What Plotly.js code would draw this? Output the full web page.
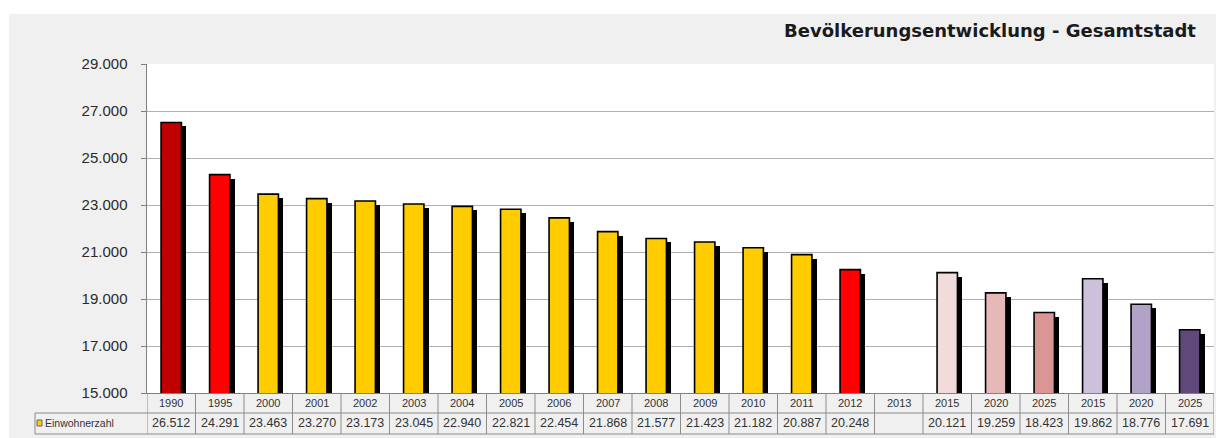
<!DOCTYPE html>
<html>
<head>
<meta charset="utf-8">
<script src="https://cdn.plot.ly/plotly-3.0.1.min.js"></script>
<style>html,body{margin:0;padding:0;background:#fff;}#chart{width:1216px;height:438px;}</style>
</head>
<body>
<div id="chart"></div>
<script>
// ---- data ----
var years = ["1990","1995","2000","2001","2002","2003","2004","2005","2006","2007","2008","2009","2010","2011","2012","2013","2015","2020","2025","2015","2020","2025"];
var population = [26512,24291,23463,23270,23173,23045,22940,22821,22454,21868,21577,21423,21182,20887,20248,null,20121,19259,18423,19862,18776,17691];
var barColors = ["#c00000","#ff0000","#ffcc00","#ffcc00","#ffcc00","#ffcc00","#ffcc00","#ffcc00","#ffcc00","#ffcc00","#ffcc00","#ffcc00","#ffcc00","#ffcc00","#ff0000","#ffffff","#f2dcdb","#e6b9b8","#da9694","#ccc0da","#b3a2c7","#60497a"];
var seriesName = "Einwohnerzahl";
var chartTitle = "Bevölkerungsentwicklung - Gesamtstadt";
var yMin = 15000, yMax = 29000, yStep = 2000;

// ---- helpers ----
var idx = years.map(function(_, i){ return i; });
function fmt(v){ return v == null ? "" : v.toLocaleString("de-DE"); }

var shadowDrop = 170; // visual shadow offset in data units
var shadow = {
  type: "bar", x: idx,
  y: population.map(function(v){ return v == null ? null : v - shadowDrop; }),
  offset: -0.11, width: 0.42,
  marker: {color: "#000000", line: {width: 0}},
  hoverinfo: "skip", showlegend: false
};
var bars = {
  type: "bar", x: idx, y: population, name: seriesName,
  offset: -0.21, width: 0.42,
  marker: {color: barColors, line: {color: "#000000", width: 1.6}},
  showlegend: false
};

// geometry in paper units
var plotH = 329, plotW = 1067;
function py(px){ return (393 - px) / plotH; }
function pxp(px){ return (px - 147) / plotW; }

var lineCol = "#8c8c8c";
var shapes = [];
shapes.push({type:"rect", xref:"paper", yref:"paper", x0:pxp(-5), x1:pxp(1225), y0:py(14), y1:py(-5), fillcolor:"#ffffff", line:{width:0}, layer:"below"});
shapes.push({type:"rect", xref:"paper", yref:"paper", x0:pxp(-5), x1:pxp(9), y0:py(445), y1:py(-5), fillcolor:"#ffffff", line:{width:0}, layer:"below"});

var rowMid = py(413), rowBot = py(434);
for (var i = 0; i <= years.length; i++) {
  shapes.push({type:"line", xref:"x", yref:"paper", x0:i-0.5, x1:i-0.5, y0:0, y1:rowBot, line:{color:lineCol, width:1}});
}
shapes.push({type:"line", xref:"paper", yref:"paper", x0:pxp(35), x1:1, y0:rowMid, y1:rowMid, line:{color:lineCol, width:1}});
shapes.push({type:"line", xref:"paper", yref:"paper", x0:pxp(35), x1:1, y0:rowBot, y1:rowBot, line:{color:lineCol, width:1}});
shapes.push({type:"line", xref:"paper", yref:"paper", x0:pxp(35), x1:pxp(35), y0:rowMid, y1:rowBot, line:{color:lineCol, width:1}});
shapes.push({type:"rect", xref:"paper", yref:"paper", x0:pxp(37), x1:pxp(42), y0:py(426), y1:py(420), fillcolor:"#ffcc00", line:{color:"#666", width:1}});

var annotations = [];
years.forEach(function(yv, i){
  annotations.push({x:i, xref:"x", y:py(403), yref:"paper", text:yv, showarrow:false, font:{family:"Liberation Sans Narrow, Liberation Sans, Arial", size:11, color:"#333"}, xanchor:"center", yanchor:"middle"});
  annotations.push({x:i, xref:"x", y:py(423.5), yref:"paper", text:fmt(population[i]), showarrow:false, font:{family:"Liberation Sans, Arial", size:12.5, color:"#333"}, xanchor:"center", yanchor:"middle"});
});
annotations.push({x:pxp(43), xref:"paper", y:py(423.5), yref:"paper", text:seriesName, showarrow:false, font:{family:"Liberation Sans, Arial", size:10.5, color:"#333"}, xanchor:"left", yanchor:"middle"});
annotations.push({x:pxp(1198), xref:"paper", y:py(31), yref:"paper", text:"<b>"+chartTitle+"</b>", showarrow:false, font:{family:"DejaVu Sans", size:18, color:"#1a1a1a"}, xanchor:"right", yanchor:"middle"});

var tickVals = [];
for (var t = yMin; t <= yMax; t += yStep) tickVals.push(t);

var layout = {
  width: 1216, height: 438,
  margin: {l:147, r:2, t:64, b:45, pad:0},
  paper_bgcolor: "#f0f0f0",
  plot_bgcolor: "#ffffff",
  separators: ",.",
  barmode: "overlay",
  bargap: 0,
  xaxis: {range:[-0.5, years.length-0.5], showticklabels:false, ticks:"", showgrid:false, zeroline:false, showline:true, linecolor:"#808080", linewidth:1, fixedrange:true},
  yaxis: {range:[yMin, yMax], tickvals:tickVals, tickformat:",d", ticks:"outside", ticklen:5, tickcolor:"#808080", showline:true, linecolor:"#808080", linewidth:1.5, gridcolor:"#b0b0b0", gridwidth:1, zeroline:false, ticklabelstandoff:10, tickfont:{family:"Liberation Sans, Arial", size:15, color:"#2a2a2a"}, fixedrange:true},
  shapes: shapes,
  annotations: annotations,
  showlegend: false
};

Plotly.newPlot("chart", [shadow, bars], layout, {displayModeBar:false, staticPlot:true});
</script>
</body>
</html>
